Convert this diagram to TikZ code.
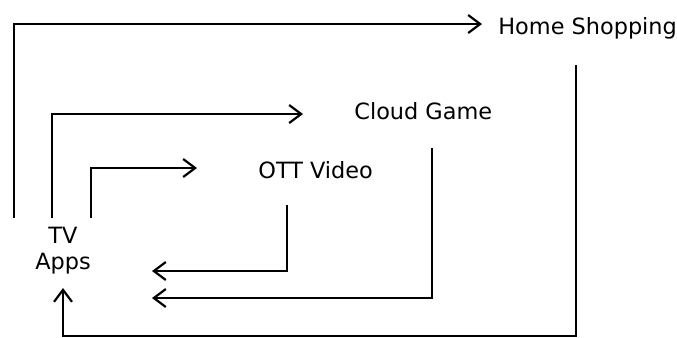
\documentclass[tikz,border=0pt]{standalone}
\usepackage{fontspec}
\setmainfont{DejaVu Sans}
\usetikzlibrary{arrows.meta}

\tikzset{
    lbl/.style={inner sep=0pt, font=\fontsize{11.2}{13}\selectfont},
    flow/.style={line width=1pt, -{Straight Barb[length=6pt,width=9pt,line width=1.1pt]}},
}

\begin{document}
\begin{tikzpicture}[x=0.5pt, y=-0.5pt]
        \useasboundingbox (0,0) rectangle (677,338);

        \node[lbl, anchor=base west] (home) at (498,34) {Home Shopping};
        \node[lbl, anchor=base west] (cloud) at (354,119) {Cloud Game};
        \node[lbl, anchor=base west] (ott) at (258,178) {OTT Video};
        \node[lbl, align=center] (tv) at (63,251) {TV\\Apps};

        \coordinate (homeOut) at (14,218);
        \coordinate (homeIn) at (482,24);
        \coordinate (cloudOut) at (52,218);
        \coordinate (cloudIn) at (303,114);
        \coordinate (ottOut) at (91,218);
        \coordinate (ottIn) at (197,168);

        \coordinate (ottBack) at (287,205);
        \coordinate (cloudBack) at (432,148);
        \coordinate (homeBack) at (576,65);
        \coordinate (ottRet) at (152,271);
        \coordinate (cloudRet) at (152,298);
        \coordinate (homeRet) at (63,336);
        \coordinate (homeUp) at (63,288);

        \draw[flow] (homeOut) |- (homeIn);
        \draw[flow] (cloudOut) |- (cloudIn);
        \draw[flow] (ottOut) |- (ottIn);

        \draw[flow] (ottBack) |- (ottRet);
        \draw[flow] (cloudBack) |- (cloudRet);
        \draw[flow] (homeBack) |- (homeRet) -- (homeUp);
    \end{tikzpicture}
\end{document}
